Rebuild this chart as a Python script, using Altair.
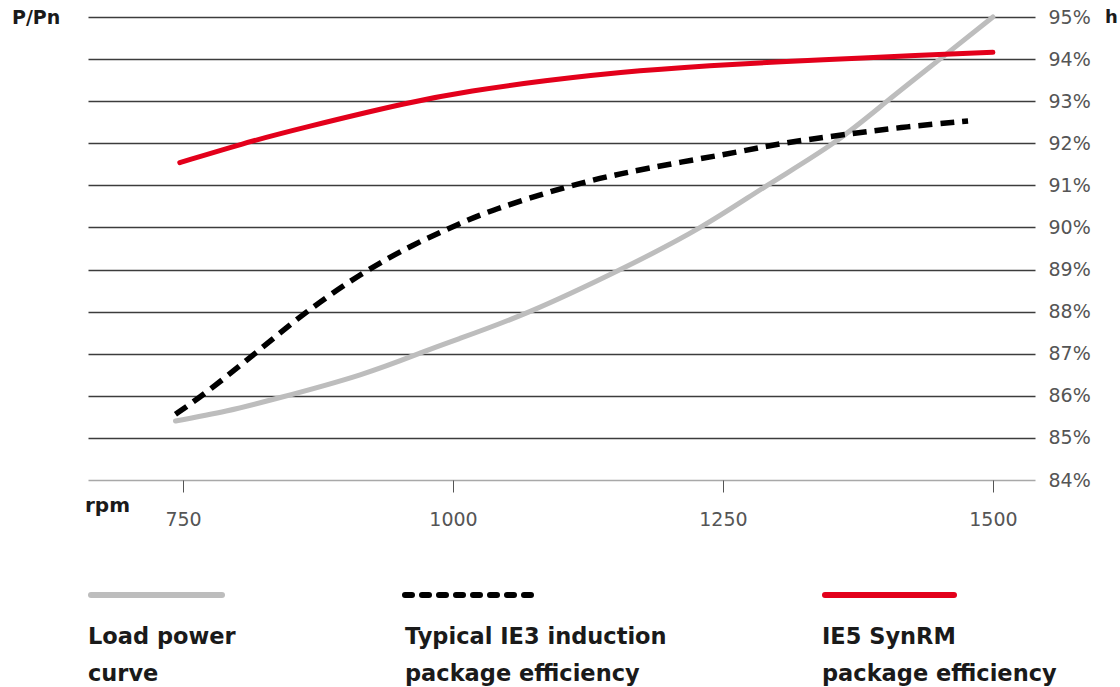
import altair as alt
import pandas as pd

# ---- data ----
load_rpm = [743, 790, 840, 914, 970, 1006, 1071, 1155, 1229, 1291, 1352, 1402, 1451, 1500]
load_val = [85.40, 85.64, 85.96, 86.50, 87.02, 87.36, 88.00, 89.00, 90.00, 91.00, 92.00, 93.00, 94.00, 95.00]

ie3_rpm = [743, 769, 819, 861, 914, 963, 1007, 1034, 1108, 1155, 1210, 1266, 1303, 1358, 1414, 1477]
ie3_val = [85.56, 86.02, 87.05, 87.95, 88.90, 89.60, 90.10, 90.40, 91.00, 91.28, 91.55, 91.80, 92.00, 92.19, 92.38, 92.53]

ie5_rpm = [747, 806, 858, 963, 1016, 1081, 1173, 1266, 1340, 1432, 1500]
ie5_val = [91.54, 92.00, 92.35, 93.00, 93.24, 93.48, 93.74, 93.89, 93.98, 94.09, 94.16]

x_ticks = [750, 1000, 1250, 1500]
y_ticks = list(range(84, 96))

legend_lines = [["Load power", "curve"],
                ["Typical IE3 induction", "package efficiency"],
                ["IE5 SynRM", "package efficiency"]]

GRAY = "#bdbdbd"
RED = "#e3001b"
BLACK = "#000000"

W, H = 947, 463

xenc = alt.X("rpm:Q",
             scale=alt.Scale(domain=[662, 1539], nice=False, zero=False),
             axis=alt.Axis(values=x_ticks, title=None, grid=False, domain=False, format="d",
                           ticks=True, tickSize=12, tickColor="#555", tickWidth=1,
                           labelFont="DejaVu Sans", labelFontSize=19, labelColor="#555",
                           labelPadding=18))
yenc = alt.Y("v:Q",
             scale=alt.Scale(domain=[84, 95], nice=False, zero=False),
             axis=alt.Axis(orient="right", values=y_ticks, title=None, domain=False,
                           ticks=False, labelPadding=13, labelFont="DejaVu Sans",
                           labelFontSize=19, labelColor="#555", labelBaseline="middle",
                           labelExpr="datum.value + '%'",
                           grid=True, gridWidth=1.5,
                           gridColor={"condition": {"test": "datum.value === 84", "value": "#a8a8a8"},
                                      "value": "#3c3c3c"}))

def series(rpm, val):
    return pd.DataFrame({"rpm": rpm, "v": val})

load = alt.Chart(series(load_rpm, load_val)).mark_line(
    color=GRAY, strokeWidth=5, interpolate="natural", strokeCap="round").encode(x=xenc, y=yenc)
ie3 = alt.Chart(series(ie3_rpm, ie3_val)).mark_line(
    color=BLACK, strokeWidth=5.5, interpolate="basis", strokeDash=[14, 8]).encode(x=xenc, y=yenc)
ie5 = alt.Chart(series(ie5_rpm, ie5_val)).mark_line(
    color=RED, strokeWidth=5, interpolate="basis", strokeCap="round").encode(x=xenc, y=yenc)

def txt(s, x, y, size=19, bold=True, color="#1a1a1a", baseline="middle", align="left"):
    return alt.Chart(pd.DataFrame({"t": [s]})).mark_text(
        font="DejaVu Sans", fontSize=size, fontWeight="bold" if bold else "normal",
        color=color, baseline=baseline, align=align).encode(
        x=alt.value(x), y=alt.value(y), text="t:N")

def leg_rule(x1, x2, color, dash=None):
    kw = dict(color=color, strokeWidth=6, strokeCap="round")
    if dash:
        kw["strokeDash"] = dash
    return alt.Chart(pd.DataFrame({"a": [0]})).mark_rule(**kw).encode(
        x=alt.value(x1), x2=alt.value(x2), y=alt.value(578))

layers = [load, ie3, ie5,
          txt("P/Pn", -76, 1, size=19),
          txt("h", 1017, 1, size=18),
          txt("rpm", -3, 489, size=20),
          leg_rule(3, 134, GRAY),
          leg_rule(317, 449, BLACK, dash=[7, 10]),
          leg_rule(737, 866, RED)]

leg_x = [0, 317, 734]
for lx, lines in zip(leg_x, legend_lines):
    layers.append(txt(lines[0], lx, 627, size=22.5, baseline="alphabetic"))
    layers.append(txt(lines[1], lx, 664, size=22.5, baseline="alphabetic"))

chart = alt.layer(*layers).properties(
    width=W, height=H,
    autosize=alt.AutoSizeParams(type="none"),
    padding={"left": 88, "top": 17, "right": 85, "bottom": 207},
    background="white",
).configure_view(stroke=None)

chart.save("out.html", embed_options={"renderer": "svg", "actions": False})
